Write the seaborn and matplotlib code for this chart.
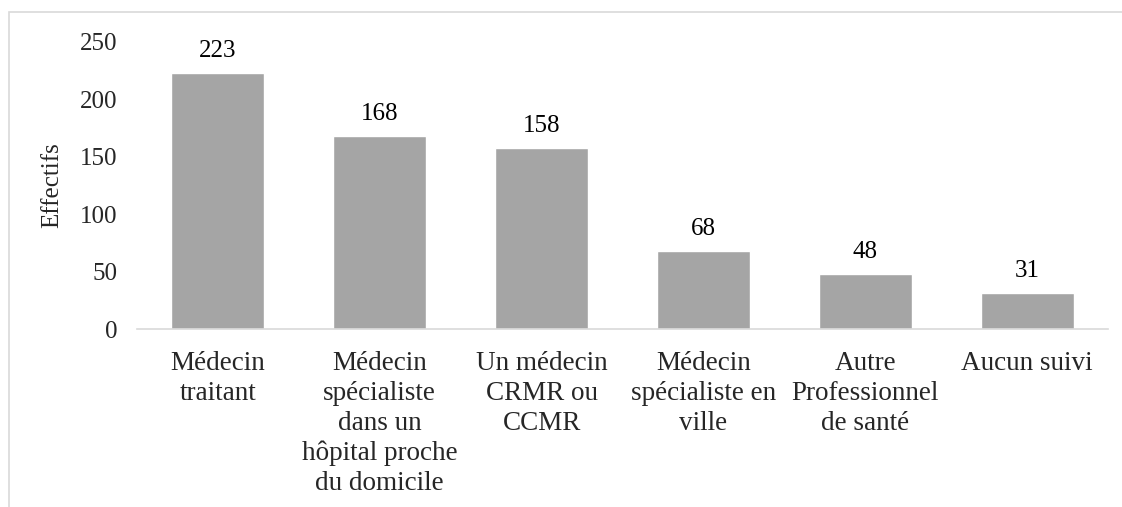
import matplotlib
matplotlib.use("Agg")
import matplotlib.pyplot as plt
import seaborn as sns
import pandas as pd
from matplotlib.patches import Rectangle

categories = ["Médecin\ntraitant",
              "Médecin\nspécialiste\ndans un\nhôpital proche\ndu domicile",
              "Un médecin\nCRMR ou\nCCMR",
              "Médecin\nspécialiste en\nville",
              "Autre\nProfessionnel\nde santé",
              "Aucun suivi"]
values = [223, 168, 158, 68, 48, 31]
yticks = [0, 50, 100, 150, 200, 250]

sns.set_theme(style="white")
plt.rcParams['font.family'] = ['Liberation Serif', 'DejaVu Serif']

FS = 18
FSX = 19.5
W, H = 1122, 507
fig = plt.figure(figsize=(W / 100, H / 100), dpi=100)
ax = fig.add_axes([137 / W, 1 - 329 / H, (1108 - 137) / W, (329 - 42) / H])

df = pd.DataFrame({"cat": categories, "val": values})
sns.barplot(data=df, x="cat", y="val", color="#a5a5a5", saturation=1,
            width=0.575, ax=ax)

for i, v in enumerate(values):
    ax.annotate(str(v), (i, v), xytext=(0, 8), textcoords="offset points",
                ha="center", va="bottom", fontsize=FS, color="black")

ax.set_ylim(0, 250)
ax.set_xlim(-0.5, len(values) - 0.5)
ax.set_yticks(yticks)
ax.set_yticklabels([str(t) for t in yticks], fontsize=FS)
ax.tick_params(axis="y", length=0, pad=14)
ax.tick_params(axis="x", length=0, pad=16, labelsize=FSX)
for lbl in ax.get_xticklabels():
    lbl.set_linespacing(1.25)
ax.set_xlabel("")
ax.set_ylabel("Effectifs", fontsize=FS, labelpad=12)
for s in ["top", "right", "left"]:
    ax.spines[s].set_visible(False)
ax.spines["bottom"].set_color("#d9d9d9")
ax.spines["bottom"].set_linewidth(1.2)

# outer chart frame (cropped at right/bottom)
fig.patches.append(Rectangle((9 / W, -0.1), 1.2, 1 - 12 / H + 0.1,
                             transform=fig.transFigure, fill=False,
                             edgecolor="#d9d9d9", linewidth=1.2))

fig.savefig("out.png", dpi=100)
